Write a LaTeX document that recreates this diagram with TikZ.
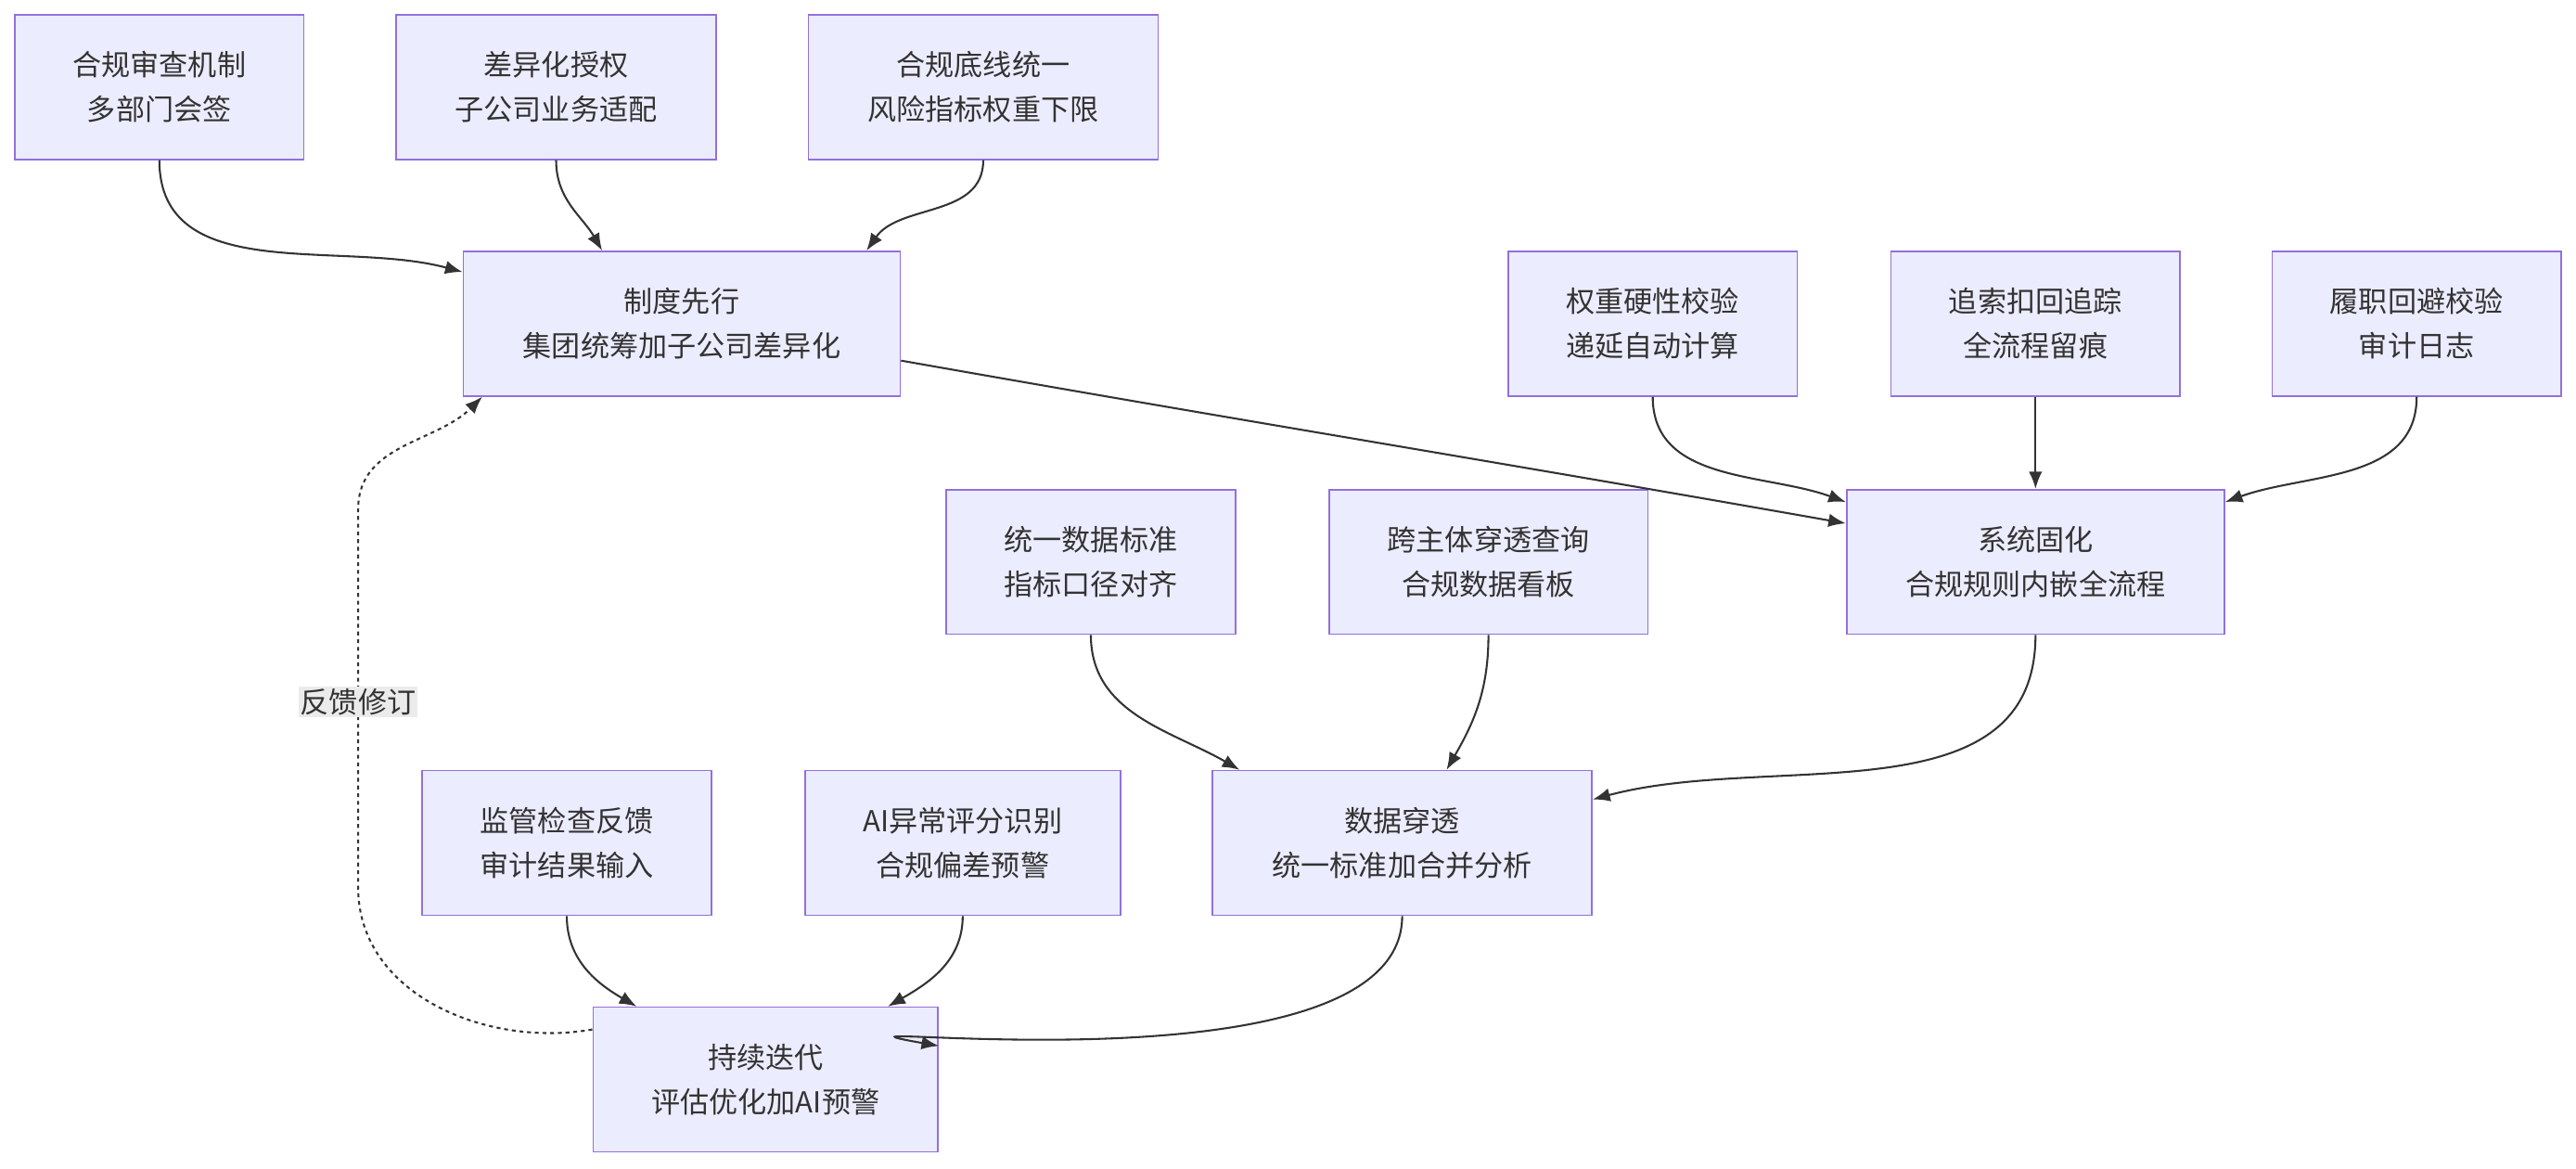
\documentclass[tikz,border=0pt]{standalone}
\usepackage{fontspec}
\setmainfont{Noto Sans CJK SC}
\usetikzlibrary{arrows.meta}
\definecolor{boxfill}{HTML}{ECECFF}
\definecolor{boxline}{HTML}{9370DB}
\definecolor{edgec}{HTML}{333333}
\begin{document}
\begin{tikzpicture}[x=0.03cm, y=-0.03cm]
		\tikzset{bx/.style={draw=boxline, fill=boxfill, line width=0.8pt, minimum height=2.64cm, align=center, font=\fontsize{15}{23}\selectfont, text=edgec}};
		\tikzset{ed/.style={draw=edgec, line width=1pt, -{Latex[length=9pt,width=7pt]}}};
		\tikzset{fb/.style={ed, dash pattern=on 2pt off 2pt}};
		\useasboundingbox (0,0) rectangle (1568,711);

		\node[bx, minimum width=5.28cm] (r1) at (97,53) {合规审查机制\\多部门会签};
		\node[bx, minimum width=5.85cm] (r2) at (338.5,53) {差异化授权\\子公司业务适配};
		\node[bx, minimum width=6.39cm] (r3) at (598.5,53) {合规底线统一\\风险指标权重下限};
		\node[bx, minimum width=7.98cm] (zd) at (415,197) {制度先行\\集团统筹加子公司差异化};
		\node[bx, minimum width=5.28cm] (s1) at (1006,197) {权重硬性校验\\递延自动计算};
		\node[bx, minimum width=5.28cm] (s2) at (1239,197) {追索扣回追踪\\全流程留痕};
		\node[bx, minimum width=5.28cm] (s3) at (1471,197) {履职回避校验\\审计日志};
		\node[bx, minimum width=6.9cm] (xt) at (1239,342) {系统固化\\合规规则内嵌全流程};
		\node[bx, minimum width=5.28cm] (d1) at (664,342) {统一数据标准\\指标口径对齐};
		\node[bx, minimum width=5.82cm] (d2) at (906,342) {跨主体穿透查询\\合规数据看板};
		\node[bx, minimum width=6.93cm] (sj) at (853.5,513) {数据穿透\\统一标准加合并分析};
		\node[bx, minimum width=5.28cm] (c1) at (345,513) {监管检查反馈\\审计结果输入};
		\node[bx, minimum width=5.76cm] (c2) at (586,513) {AI异常评分识别\\合规偏差预警};
		\node[bx, minimum width=6.3cm] (dd) at (466,657) {持续迭代\\评估优化加AI预警};

		\draw[ed] (r1.south) to[out=-90, in=165] ([yshift=-0.39cm]zd.north west);
		\draw[ed] (r2.south) to[out=-90, in=120] ([xshift=2.55cm]zd.north west);
		\draw[ed] (r3.south) to[out=-90, in=55] ([xshift=-0.63cm]zd.north east);
		\draw[ed] ([yshift=0.66cm]zd.south east) to[out=-10, in=170] ([yshift=-0.63cm]xt.north west);

		\draw[ed] (s1.south) to[out=-90, in=160] ([yshift=-0.24cm]xt.north west);
		\draw[ed] (s2.south) -- (xt.north);
		\draw[ed] (s3.south) to[out=-90, in=20] ([yshift=-0.24cm]xt.north east);

		\draw[ed] (d1.south) to[out=-90, in=150] ([xshift=0.51cm]sj.north west);
		\draw[ed] (d2.south) to[out=-90, in=60] ([xshift=0.81cm]sj.north);
		\draw[ed] (xt.south) to[out=-90, in=15] ([yshift=-0.54cm]sj.north east);

		\draw[ed] (c1.south) to[out=-90, in=150] ([xshift=0.81cm]dd.north west);
		\draw[ed] (c2.south) to[out=-90, in=30] ([xshift=-0.93cm]dd.north east);
		\draw[ed] (sj.south) to[out=-90, in=170] ([yshift=-0.72cm]dd.north east);

		\coordinate (fa) at (218,540);
		\coordinate (fb) at (218,310);
		\draw[fb] ([yshift=-0.42cm]dd.north west) to[out=190, in=-90] (fa) -- (fb)
			node[pos=0.49, fill=black!8, inner sep=1pt, text=edgec, font=\fontsize{15}{18}\selectfont] (fl) {反馈修订}
			to[out=90, in=225] ([xshift=0.36cm]zd.south west);
\end{tikzpicture}
\end{document}
